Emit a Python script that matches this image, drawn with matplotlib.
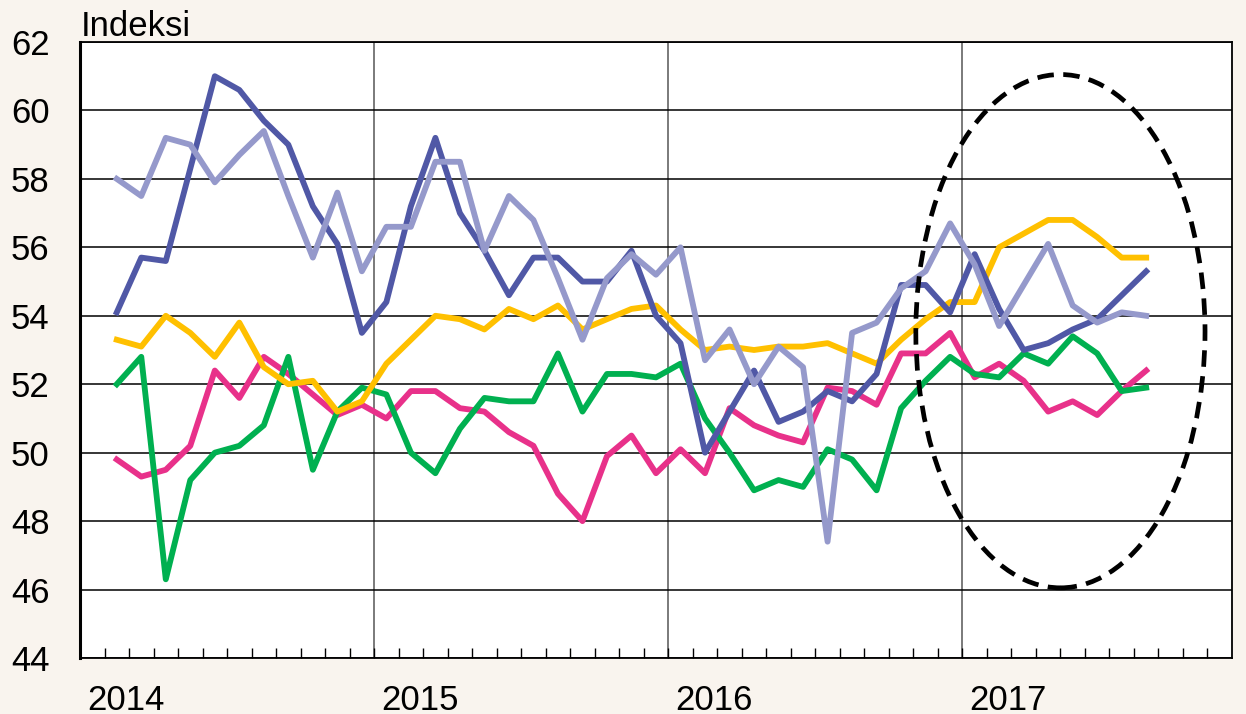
import numpy as np
import matplotlib.pyplot as plt
from matplotlib.patches import Ellipse
from matplotlib.ticker import FixedLocator, MultipleLocator
import matplotlib.transforms as mtransforms

plt.rcParams['font.family'] = ['Liberation Sans', 'DejaVu Sans']

# months counted from Jan 2014 = 0; series run Feb 2014 .. Aug 2017
months = np.arange(1, 44)
years = [2014, 2015, 2016, 2017]

dark_blue = [54.1, 55.7, 55.6, 58.3, 61.0, 60.6, 59.7, 59.0, 57.2, 56.1, 53.5, 54.4,
             57.2, 59.2, 57.0, 55.9, 54.6, 55.7, 55.7, 55.0, 55.0, 55.9, 54.0, 53.2,
             50.0, 51.2, 52.4, 50.9, 51.2, 51.8, 51.5, 52.3, 54.9, 54.9, 54.1, 55.8,
             54.2, 53.0, 53.2, 53.6, 53.9, 54.6, 55.3]
light_blue = [58.0, 57.5, 59.2, 59.0, 57.9, 58.7, 59.4, 57.5, 55.7, 57.6, 55.3, 56.6,
              56.6, 58.5, 58.5, 55.9, 57.5, 56.8, 55.1, 53.3, 55.1, 55.8, 55.2, 56.0,
              52.7, 53.6, 52.0, 53.1, 52.5, 47.4, 53.5, 53.8, 54.8, 55.3, 56.7, 55.5,
              53.7, 54.9, 56.1, 54.3, 53.8, 54.1, 54.0]
yellow = [53.3, 53.1, 54.0, 53.5, 52.8, 53.8, 52.5, 52.0, 52.1, 51.2, 51.5, 52.6,
          53.3, 54.0, 53.9, 53.6, 54.2, 53.9, 54.3, 53.6, 53.9, 54.2, 54.3, 53.6,
          53.0, 53.1, 53.0, 53.1, 53.1, 53.2, 52.9, 52.6, 53.3, 53.9, 54.4, 54.4,
          56.0, 56.4, 56.8, 56.8, 56.3, 55.7, 55.7]
pink = [49.8, 49.3, 49.5, 50.2, 52.4, 51.6, 52.8, 52.3, 51.7, 51.1, 51.4, 51.0,
        51.8, 51.8, 51.3, 51.2, 50.6, 50.2, 48.8, 48.0, 49.9, 50.5, 49.4, 50.1,
        49.4, 51.3, 50.8, 50.5, 50.3, 51.9, 51.8, 51.4, 52.9, 52.9, 53.5, 52.2,
        52.6, 52.1, 51.2, 51.5, 51.1, 51.8, 52.4]
green = [52.0, 52.8, 46.3, 49.2, 50.0, 50.2, 50.8, 52.8, 49.5, 51.2, 51.9, 51.7,
         50.0, 49.4, 50.7, 51.6, 51.5, 51.5, 52.9, 51.2, 52.3, 52.3, 52.2, 52.6,
         51.0, 50.0, 48.9, 49.2, 49.0, 50.1, 49.8, 48.9, 51.3, 52.1, 52.8, 52.3,
         52.2, 52.9, 52.6, 53.4, 52.9, 51.8, 51.9]

fig = plt.figure(figsize=(12.46, 7.14), dpi=100, facecolor='#f9f4ee')
ax = fig.add_axes([80 / 1246, 1 - 658 / 714, 1152 / 1246, 616 / 714])
ax.set_facecolor('white')

x = months + 0.5
lw = 4.2
ax.plot(x, pink, color='#e8318a', lw=lw, zorder=3)
ax.plot(x, green, color='#00b050', lw=lw, zorder=3)
ax.plot(x, yellow, color='#ffc000', lw=lw, zorder=3)
ax.plot(x, dark_blue, color='#5058a6', lw=lw, zorder=4)
ax.plot(x, light_blue, color='#9599cb', lw=lw, zorder=4)

# highlight of the latest months
ell = Ellipse((40.0, 53.55), 11.8, 15.0, fill=False, edgecolor='black',
              lw=3.4, ls=(0, (3.5, 2.0)), zorder=5)
ax.add_patch(ell)

ax.set_xlim(0, 47)
ax.set_ylim(44, 62)
ax.yaxis.set_major_locator(MultipleLocator(2))
ax.grid(axis='y', color='black', lw=1.1, zorder=1)
for k in range(1, 4):
    ax.axvline(12 * k, color='#707070', lw=1.3, zorder=1)

year_pos = [12 * (y - 2014) for y in years]
ax.xaxis.set_major_locator(FixedLocator(year_pos))
ax.xaxis.set_minor_locator(FixedLocator([m for m in range(1, 47) if m % 12]))
ax.set_xticklabels([str(y) for y in years])
ax.tick_params(axis='x', which='both', direction='in', length=7, width=1,
               color='black', labelsize=25, pad=19)
ax.tick_params(axis='y', length=0, labelsize=25, pad=22)
offset = mtransforms.ScaledTranslation(7 / 100, 0, fig.dpi_scale_trans)
for lab in ax.get_xticklabels():
    lab.set_horizontalalignment('left')
    lab.set_transform(lab.get_transform() + offset)

for side in ['top', 'right', 'bottom']:
    ax.spines[side].set_linewidth(1.3)
ax.spines['left'].set_linewidth(2.2)

fig.text(81 / 1246, 1 - 36 / 714, 'Indeksi', fontsize=25, ha='left', va='baseline')

fig.savefig('out.png', dpi=100, facecolor=fig.get_facecolor())
